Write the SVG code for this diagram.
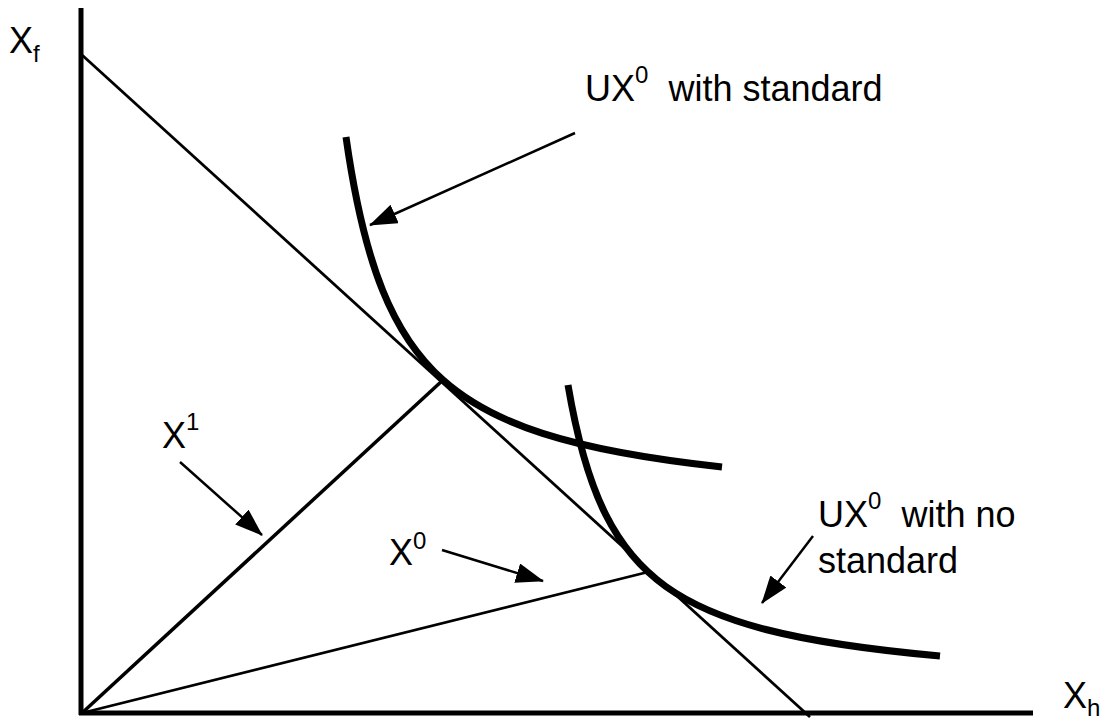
<svg xmlns="http://www.w3.org/2000/svg" width="1105" height="721" viewBox="0 0 1105 721">
<style>
text{font-family:"Liberation Sans",Arial,sans-serif;fill:#000;white-space:pre}
.lbl{font-size:36px}
.sup{font-size:24px}
.ax{stroke:#000;stroke-width:5;fill:none}
.ln{stroke:#000;stroke-width:2.8;fill:none}
.ray{stroke:#000;stroke-width:3.5;fill:none}
.crv{stroke:#000;stroke-width:7;fill:none}
.arr{stroke:#000;stroke-width:2.5;fill:none;marker-end:url(#ah)}
</style>
<defs>
<marker id="ah" markerUnits="userSpaceOnUse" markerWidth="30" markerHeight="22" refX="27" refY="10" orient="auto">
<path d="M0,0 L28,10 L0,20 Z" fill="#000"/>
</marker>
</defs>
<rect width="1105" height="721" fill="#fff"/>
<g id="axes">
<line class="ax" x1="81" y1="8" x2="81" y2="715"/>
<line class="ax" x1="79" y1="713" x2="1033" y2="713"/>
</g>
<g id="budget-line"><line class="ln" x1="82" y1="55" x2="810" y2="717"/></g>
<g id="ray-x1"><line class="ray" x1="82" y1="713" x2="443" y2="380"/></g>
<g id="ray-x0"><line class="ln" x1="82" y1="713" x2="648" y2="572"/></g>
<g id="curve-standard"><path class="crv" d="M346,137 Q359.6,233.2 382.6,290.3 Q405.1,346.2 442.6,379.7 Q480.1,413.3 542.6,433.4 Q608.6,454.65 722,467"/></g>
<g id="curve-no-standard"><path class="crv" d="M568,385 Q581.9,467.1 605.8,514.8 Q628.3,559.6 665.8,586.5 Q703.3,613.35 765.8,629.5 Q830.4,646.15 940,656"/></g>
<g id="connectors">
<line class="arr" x1="575" y1="133" x2="370" y2="225"/>
<line class="arr" x1="180" y1="462" x2="262" y2="535"/>
<line class="arr" x1="442" y1="550" x2="543" y2="581"/>
<line class="arr" x1="813" y1="536" x2="762" y2="603"/>
</g>
<g id="label-xf"><text class="lbl" x="9" y="53">X<tspan class="sup" dy="9">f</tspan></text></g>
<g id="label-xh"><text class="lbl" x="1063" y="708">X<tspan class="sup" dy="8">h</tspan></text></g>
<g id="label-standard"><text class="lbl" x="585" y="101">UX<tspan class="sup" dy="-18">0</tspan><tspan dy="18">  with standard</tspan></text></g>
<g id="label-no-standard"><text class="lbl" x="818" y="527">UX<tspan class="sup" dy="-18">0</tspan><tspan dy="18">  with no</tspan></text><text class="lbl" x="818" y="573">standard</text></g>
<g id="label-x1"><text class="lbl" x="162" y="448">X<tspan class="sup" dy="-18">1</tspan></text></g>
<g id="label-x0"><text class="lbl" x="389" y="565">X<tspan class="sup" dy="-16">0</tspan></text></g>
</svg>
